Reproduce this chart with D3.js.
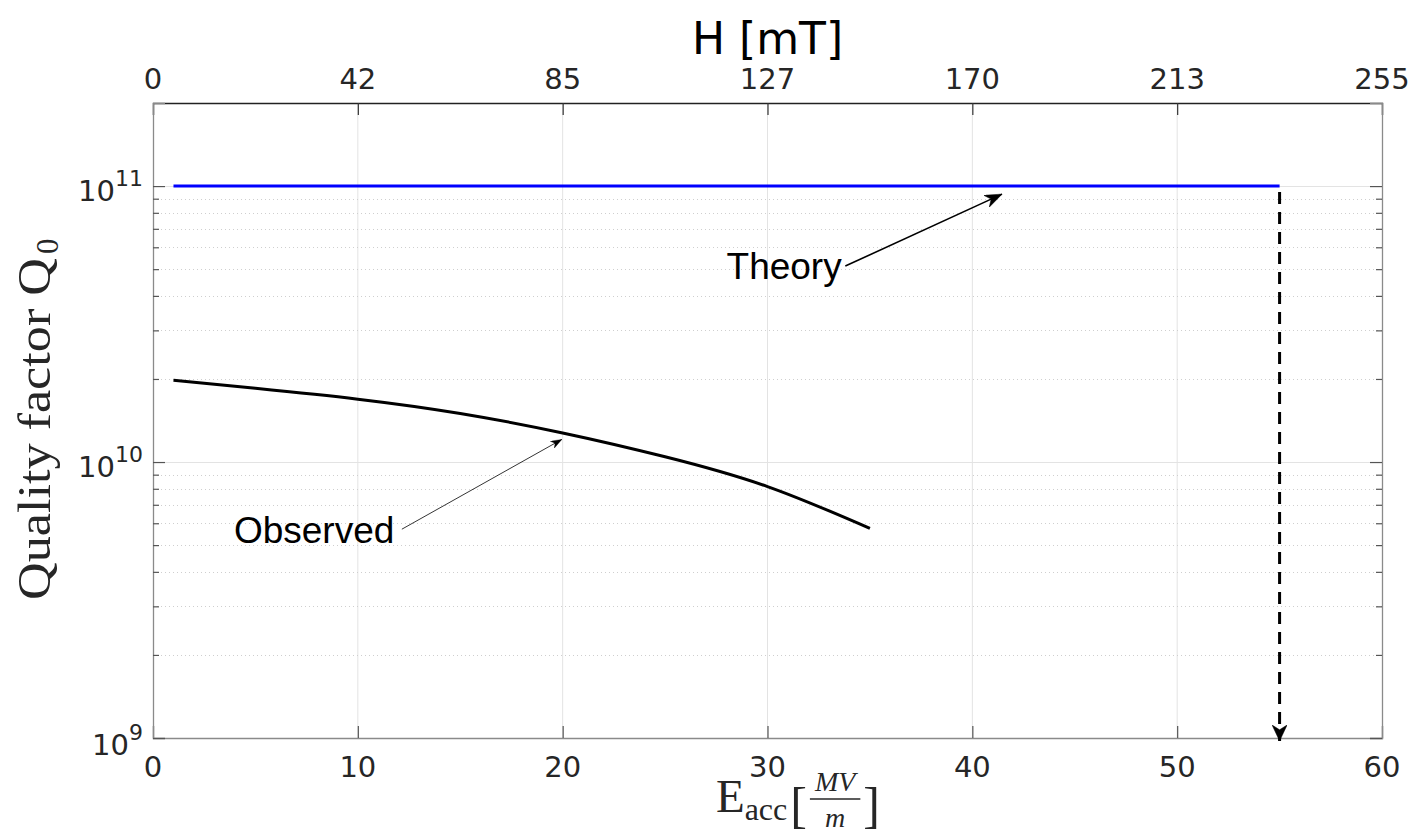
<!DOCTYPE html>
<html><head><meta charset="utf-8">
<script src="https://cdn.jsdelivr.net/npm/d3@7"></script>
<style>body{margin:0;background:#fff}svg{display:block}</style>
</head><body>
<svg id="c" width="1420" height="836"></svg>
<script>
// ---- data ----
const eTicks = [0, 10, 20, 30, 40, 50, 60];
const hTickLabels = ["0", "42", "85", "127", "170", "213", "255"];
const yDecades = [1e9, 1e10, 1e11];
const yExponents = ["9", "10", "11"];
const theoryE = [1, 55];
const theoryQ = [1e11, 1e11];
const observedE = [1, 5, 10, 15, 20, 25, 30, 35];
const observedQ = [1.98e10, 1.85e10, 1.69e10, 1.5e10, 1.275e10, 1.045e10, 8.15e9, 5.75e9];
const limitE = 55;
const limitQ = [1e11, 1e9];
const notes = [
  {text: "Theory", tx: 28.0, tq: 4.6e10, fromE: 33.8, fromQ: 5.13e10, toE: 41.45, toQ: 9.35e10},
  {text: "Observed", tx: 3.95, tq: 5.1e9, fromE: 12.15, fromQ: 5.71e9, toE: 19.96, toQ: 1.208e10}
];

(function () {
// ---- layout ----
const L = 153, R = 1382, T = 103, B = 738;
const svg = d3.select("#c");
const x = d3.scaleLinear().domain([0, 60]).range([L, R]);
const y = d3.scaleLog().domain([1e9, 2e11]).range([B, T]);

const minors = [];
[1e9, 1e10].forEach(d => { for (let k = 2; k <= 9; k++) minors.push(d * k); });
const axisGray = "#8a8a8a", txt = "#262626";

// grid
const g = svg.append("g");
g.selectAll(".vg").data(eTicks.slice(1, -1)).join("line")
  .attr("x1", d => x(d)).attr("x2", d => x(d)).attr("y1", T).attr("y2", B)
  .attr("stroke", "#e3e3e3").attr("stroke-width", 1);
g.selectAll(".hm").data(minors).join("line")
  .attr("x1", L).attr("x2", R).attr("y1", d => Math.round(y(d)) + 0.5).attr("y2", d => Math.round(y(d)) + 0.5)
  .attr("stroke", "#cfcfcf").attr("stroke-width", 1).attr("stroke-dasharray", "1,3");
g.selectAll(".hM").data([1e10, 1e11]).join("line")
  .attr("x1", L).attr("x2", R).attr("y1", d => Math.round(y(d)) + 0.5).attr("y2", d => Math.round(y(d)) + 0.5)
  .attr("stroke", "#e3e3e3").attr("stroke-width", 1);

// axes via d3
const fmtNone = () => "";
const axB = svg.append("g").attr("transform", `translate(0,${B})`)
  .call(d3.axisTop(x).tickValues(eTicks).tickSize(12).tickFormat(fmtNone));
const axT = svg.append("g").attr("transform", `translate(0,${T})`)
  .call(d3.axisBottom(x).tickValues(eTicks).tickSize(12).tickFormat(fmtNone));
const axL = svg.append("g").attr("transform", `translate(${L},0)`)
  .call(d3.axisRight(y).tickValues(yDecades).tickSize(12).tickFormat(fmtNone));
const axLm = svg.append("g").attr("transform", `translate(${L},0)`)
  .call(d3.axisRight(y).tickValues(minors).tickSize(6).tickFormat(fmtNone));
const axR = svg.append("g").attr("transform", `translate(${R},0)`)
  .call(d3.axisLeft(y).tickValues(yDecades).tickSize(12).tickFormat(fmtNone));
const axRm = svg.append("g").attr("transform", `translate(${R},0)`)
  .call(d3.axisLeft(y).tickValues(minors).tickSize(6).tickFormat(fmtNone));
[axB, axL, axLm, axR, axRm].forEach(a => {
  a.select(".domain").attr("stroke", axisGray).attr("stroke-width", 1.3);
  a.selectAll(".tick line").attr("stroke", "#555").attr("stroke-width", 1.2);
});
[axLm, axRm].forEach(a => a.select(".domain").remove());
axT.select(".domain").attr("stroke", "#222").attr("stroke-width", 1.3);
axT.selectAll(".tick line").attr("stroke", "#333").attr("stroke-width", 1.2);

// tick labels
const font = "'DejaVu Sans', sans-serif";
svg.append("g").selectAll("text").data(eTicks).join("text")
  .attr("x", d => x(d)).attr("y", 777).attr("text-anchor", "middle")
  .attr("font-family", font).attr("font-size", 29).attr("fill", txt).text(d => d);
svg.append("g").selectAll("text").data(eTicks).join("text")
  .attr("x", d => x(d)).attr("y", 89).attr("text-anchor", "middle")
  .attr("font-family", font).attr("font-size", 29).attr("fill", txt).text((d, i) => hTickLabels[i]);
const yl = svg.append("g").selectAll("text").data(yDecades).join("text")
  .attr("x", 143).attr("y", (d, i) => y(d) + (i === 0 ? 17 : 15)).attr("text-anchor", "end")
  .attr("font-family", font).attr("font-size", 29).attr("fill", txt);
yl.append("tspan").text("10");
yl.append("tspan").attr("dy", -15).attr("font-size", 22).text((d, i) => yExponents[i]);

// titles
svg.append("text").attr("x", (L + R) / 2).attr("y", 54).attr("text-anchor", "middle")
  .attr("font-family", font).attr("font-size", 44).attr("fill", "#000").text("H [mT]");

const serif = "'Liberation Serif', 'Times New Roman', serif";
const ylab = svg.append("g").attr("transform", "translate(50,600) rotate(-90)");
ylab.append("text").attr("x", 0).attr("y", 0).attr("font-family", serif).attr("font-size", 46)
  .attr("fill", txt).attr("textLength", 342).attr("lengthAdjust", "spacingAndGlyphs").text("Quality factor Q");
ylab.append("text").attr("x", 346).attr("y", 8).attr("font-family", serif).attr("font-size", 31)
  .attr("fill", txt).text("0");

// x label: E_acc [MV/m]
const xl = svg.append("g");
let cx = 0;
const base = 812;
const tE = xl.append("text").attr("x", cx).attr("y", base).attr("font-family", serif).attr("font-size", 47).attr("fill", txt).text("E");
cx += tE.node().getComputedTextLength();
const tA = xl.append("text").attr("x", cx).attr("y", base + 8).attr("font-family", serif).attr("font-size", 32).attr("fill", txt).text("acc");
cx += tA.node().getComputedTextLength() + 3;
const tB1 = xl.append("text").attr("x", cx).attr("y", base + 10).attr("font-family", serif).attr("font-size", 50).attr("fill", txt).text("[");
cx += tB1.node().getComputedTextLength() + 3;
const tN = xl.append("text").attr("y", base - 21).attr("font-family", serif).attr("font-style", "italic").attr("font-size", 28).attr("fill", txt).attr("text-anchor", "middle").text("MV");
const wN = tN.node().getComputedTextLength() + 10;
tN.attr("x", cx + wN / 2);
xl.append("line").attr("x1", cx).attr("x2", cx + wN).attr("y1", base - 13).attr("y2", base - 13).attr("stroke", txt).attr("stroke-width", 1.5);
xl.append("text").attr("x", cx + wN / 2).attr("y", base + 15).attr("font-family", serif).attr("font-style", "italic").attr("font-size", 28).attr("fill", txt).attr("text-anchor", "middle").text("m");
cx += wN + 3;
const tB2 = xl.append("text").attr("x", cx).attr("y", base + 10).attr("font-family", serif).attr("font-size", 50).attr("fill", txt).text("]");
cx += tB2.node().getComputedTextLength();
xl.attr("transform", `translate(${880 - cx},0)`);

// defs: arrowheads
const defs = svg.append("defs");
function head(id, w, h, fill, sw) {
  defs.append("marker").attr("id", id).attr("viewBox", `0 0 ${w} ${h}`).attr("refX", w).attr("refY", h / 2)
    .attr("markerWidth", w).attr("markerHeight", h).attr("markerUnits", "userSpaceOnUse").attr("orient", "auto")
    .append("path").attr("d", `M0,0 L${w},${h / 2} L0,${h} L${w * 0.3},${h / 2} Z`)
    .attr("fill", fill).attr("stroke", fill).attr("stroke-width", sw);
}
head("hBig", 17, 13, "#000", 0.5);
head("hSmall", 11, 8, "#000", 0.3);
head("hDash", 16, 15, "#000", 0.5);

// series
const line = d3.line().x(d => x(d[0])).y(d => y(d[1]));
svg.append("path").datum(theoryE.map((e, i) => [e, theoryQ[i]])).attr("d", line)
  .attr("fill", "none").attr("stroke", "#0000ff").attr("stroke-width", 3);
svg.append("path").datum(observedE.map((e, i) => [e, observedQ[i]])).attr("d", line.curve(d3.curveNatural))
  .attr("fill", "none").attr("stroke", "#000").attr("stroke-width", 3);
svg.append("line").attr("x1", x(limitE)).attr("x2", x(limitE)).attr("y1", y(limitQ[0]) + 6).attr("y2", y(limitQ[1]) + 3)
  .attr("stroke", "#000").attr("stroke-width", 3).attr("stroke-dasharray", "12,8").attr("marker-end", "url(#hDash)");

// annotations
const sans = "'Liberation Sans', Arial, sans-serif";
notes.forEach((n, i) => {
  svg.append("text").attr("x", x(n.tx)).attr("y", y(n.tq)).attr("font-family", sans).attr("font-size", 37)
    .attr("fill", "#000").text(n.text);
  svg.append("line").attr("x1", x(n.fromE)).attr("y1", y(n.fromQ)).attr("x2", x(n.toE)).attr("y2", y(n.toQ))
    .attr("stroke", "#000").attr("stroke-width", i === 0 ? 1.6 : 0.8)
    .attr("marker-end", i === 0 ? "url(#hBig)" : "url(#hSmall)");
});
})();
</script>
</body></html>
